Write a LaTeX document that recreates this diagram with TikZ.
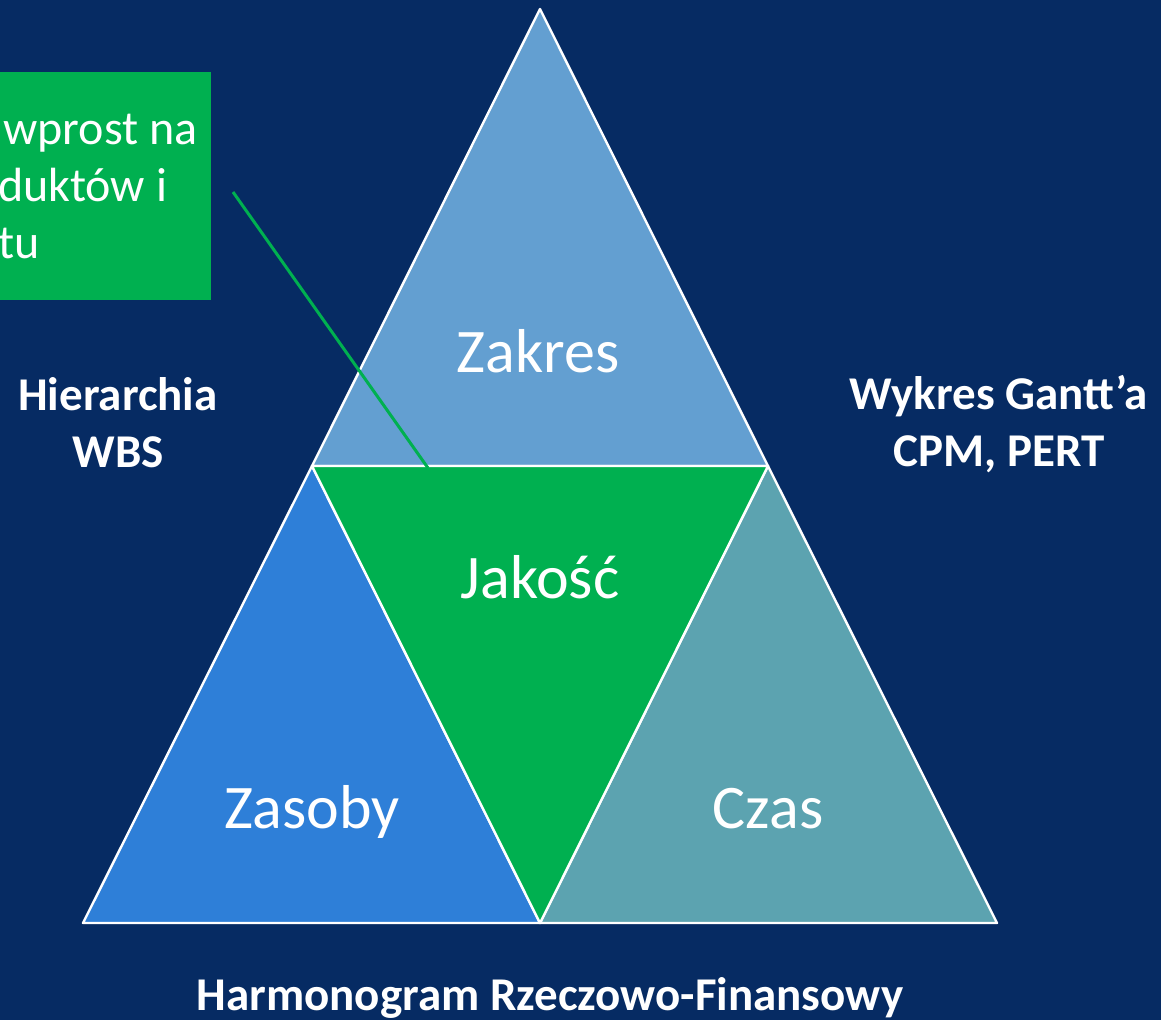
\documentclass[tikz,border=0pt]{standalone}
\usepackage{fontspec}
\setmainfont{Carlito}
\definecolor{navy}{RGB}{6,43,99}
\definecolor{scopeblue}{RGB}{99,159,209}
\definecolor{resblue}{RGB}{46,127,216}
\definecolor{timeteal}{RGB}{92,163,176}
\definecolor{qualgreen}{RGB}{0,176,80}

\begin{document}
\begin{tikzpicture}[x=1pt,y=-1pt]
      \tikzset{part/.style={draw=white,line width=2.4pt,line join=round},
               big/.style={text=white,anchor=base,inner sep=0pt,font=\fontsize{62}{74}\selectfont},
               side/.style={text=white,anchor=base,inner sep=0pt,align=center,font=\bfseries\fontsize{47}{57}\selectfont}}

      \fill[navy] (0,0) rectangle (1161,1020);
      \useasboundingbox (0,0) rectangle (1161,1020);

      % corners of the big triangle and the midpoints of its sides
      \coordinate (top) at (540,9);
      \coordinate (bl) at (83,923);
      \coordinate (br) at (997,923);
      \coordinate (ml) at (312,466);
      \coordinate (mr) at (768,466);
      \coordinate (mb) at (540,923);

      \filldraw[part,fill=scopeblue] (top) -- (ml) -- (mr) -- cycle;
      \filldraw[part,fill=resblue] (ml) -- (bl) -- (mb) -- cycle;
      \filldraw[part,fill=timeteal] (mr) -- (mb) -- (br) -- cycle;
      \filldraw[part,fill=qualgreen] (ml) -- (mr) -- (mb) -- cycle;

      \node[big] (zakres) at (538,372) {Zakres};
      \node[big] (jakosc) at (540,598) {Jakość};
      \node[big] (zasoby) at (312,828) {Zasoby};
      \node[big] (czas) at (768,828) {Czas};

      % callout box, cut by the left edge
      \fill[qualgreen] (0,72) rectangle (211,300);
      \node[text=white,anchor=base west,inner sep=0pt,align=left,font=\fontsize{48}{57}\selectfont] (callout) at (-2,258) {\hspace*{5pt}wprost na\\duktów i\\tu};
      \coordinate (calloutend) at (233,192);
      \coordinate (calloutpin) at (428,468);
      \draw[qualgreen,line width=3pt] (calloutend) -- (calloutpin);

      \node[side] (wbs) at (118,467) {Hierarchia\\WBS};
      \node[side] (gantt) at (999,466) {Wykres Gantt’a\\CPM, PERT};
      \node[side] (hrf) at (550,1010) {Harmonogram Rzeczowo-Finansowy};
\end{tikzpicture}
\end{document}
